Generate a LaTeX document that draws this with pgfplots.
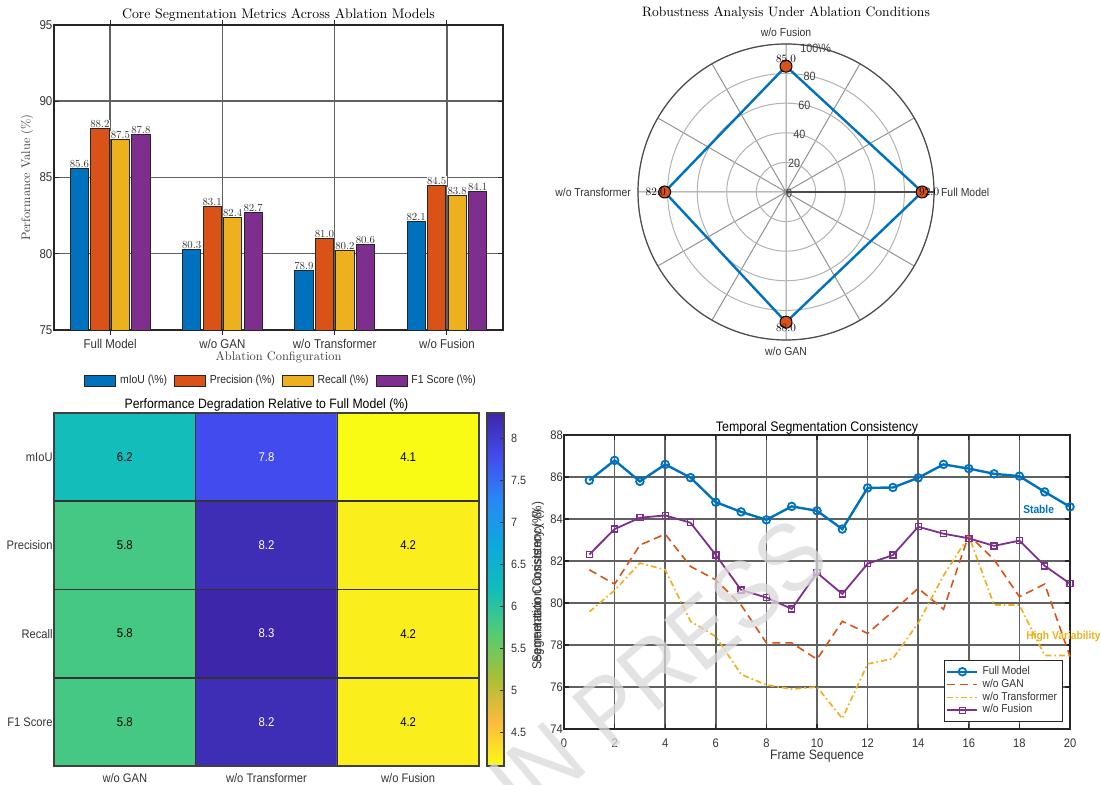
\documentclass[border=0pt]{standalone}
\usepackage{fontspec}
\setmainfont{lmroman10-regular.otf}
\setsansfont{Liberation Sans}[FakeStretch=0.9]
\usepackage{pgfplots}
\usepackage{pgfplotstable}
\pgfplotsset{compat=1.18}
\usepgfplotslibrary{polar}
\definecolor{mblue}{rgb}{0,0.447,0.741}
\definecolor{morange}{rgb}{0.85,0.325,0.098}
\definecolor{myellow}{rgb}{0.929,0.694,0.125}
\definecolor{mpurple}{rgb}{0.494,0.184,0.556}
\definecolor{gridc}{gray}{0.38}
\definecolor{tickc}{gray}{0.2}
\definecolor{boxc}{gray}{0.15}
\newcommand{\sfs}[1]{\sffamily\fontsize{#1}{#1}\selectfont}
\newcommand{\rms}[1]{\rmfamily\fontsize{#1}{#1}\selectfont}

\pgfplotstableread{
x miou prec rec f1
0 85.6 88.2 87.5 87.8
1 80.3 83.1 82.4 82.7
2 78.9 81.0 80.2 80.6
3 82.1 84.5 83.8 84.1
}\bardata

\pgfplotstableread{
x y c
0 0 5.8
1 0 8.2
2 0 4.2
0 1 5.8
1 1 8.3
2 1 4.2
0 2 5.8
1 2 8.2
2 2 4.2
0 3 6.2
1 3 7.8
2 3 4.1
}\heatdata

\pgfplotstableread{
f full gan trans fus
1 85.84 81.58 79.58 82.31
2 86.79 80.90 80.60 83.52
3 85.79 82.76 81.90 84.06
4 86.60 83.28 81.58 84.17
5 85.97 81.74 79.13 83.82
6 84.80 81.10 78.40 82.29
7 84.34 79.90 76.60 80.62
8 83.96 78.10 76.10 80.26
9 84.60 78.10 75.90 79.72
10 84.39 77.32 76.00 81.44
11 83.52 79.13 74.50 80.43
12 85.48 78.55 77.10 81.87
13 85.50 79.60 77.35 82.28
14 85.96 80.70 79.05 83.63
15 86.60 79.70 81.30 83.30
16 86.40 83.24 83.20 83.08
17 86.15 82.06 79.90 82.72
18 86.04 80.30 79.90 82.97
19 85.29 80.90 77.50 81.77
20 84.58 77.45 77.50 80.92
}\linedata

\begin{document}
\begin{tikzpicture}
\useasboundingbox (0,0) rectangle (550.5pt,392.5pt);

% ---------------- Bar chart ----------------
\begin{axis}[
  at={(27pt,227.5pt)}, anchor=south west,
  scale only axis, width=224.5pt, height=152.5pt,
  xmin=-0.5, xmax=3.5, ymin=75, ymax=95,
  xtick={0,1,2,3},
  xticklabels={Full Model,w/o GAN,w/o Transformer,w/o Fusion},
  ytick={75,80,...,95},
  grid=major, major grid style={gridc, line width=0.75pt},
  axis line style={boxc, line width=0.8pt},
  tick align=inside, major tick length=2.5pt, tick style={boxc, line width=0.6pt},
  /pgf/number format/assume math mode=true,
  tick label style={font=\sfs{6.4}, text=tickc},
  yticklabel style={inner sep=0.6pt},
  xticklabel style={yshift=1.5pt},
  title={Core Segmentation Metrics Across Ablation Models},
  title style={font=\rms{6.9}, at={(axis description cs:0.5,1)}, anchor=center, yshift=-1pt},
  ylabel={Performance Value (\%)},
  ylabel style={font=\rms{6.2}, text=black!75, at={(axis description cs:0,0.5)}, anchor=center, yshift=13.5pt},
  xlabel={Ablation Configuration},
  xlabel style={font=\rms{6.2}, text=black!75, at={(axis description cs:0.5,0)}, anchor=center, yshift=-13.5pt},
  ybar, bar width=0.162,
  legend image code/.code={\draw[#1, draw=black!85, line width=0.4pt] (0pt,-2.6pt) rectangle (15.5pt,2.6pt);},
  legend columns=4,
  legend style={draw=none, fill=none, font=\sfs{5.8}, text=black!85,
    at={(axis description cs:0.508,-0.167)}, anchor=center,
    /tikz/every even column/.append style={column sep=1.5pt}},
  nodes near coords={\pgfmathprintnumber[fixed,fixed zerofill,precision=1]{\pgfplotspointmeta}},
  nodes near coords style={font=\rms{5.4}, fill=white, inner sep=0.2pt, text=black!80},
]
\addplot[bar shift=-0.274, fill=mblue, draw=black!85, line width=0.4pt] table[x=x,y=miou]{\bardata};
\addplot[bar shift=-0.0915, fill=morange, draw=black!85, line width=0.4pt] table[x=x,y=prec]{\bardata};
\addplot[bar shift=0.0915, fill=myellow, draw=black!85, line width=0.4pt] table[x=x,y=rec]{\bardata};
\addplot[bar shift=0.274, fill=mpurple, draw=black!85, line width=0.4pt] table[x=x,y=f1]{\bardata};
\legend{mIoU (\textbackslash\%),Precision (\textbackslash\%),Recall (\textbackslash\%),F1 Score (\textbackslash\%)}
\end{axis}

% ---------------- Polar chart ----------------
\begin{polaraxis}[
  at={(393pt,296.5pt)}, anchor=center,
  scale only axis, width=148pt, height=148pt,
  ymin=0, ymax=100,
  xtick={0,30,...,330},
  xticklabels={Full Model,,,w/o Fusion,,,w/o Transformer,,,w/o GAN,,},
  xticklabel style={font=\sfs{5.8}, text=black!80},
  ytick={0,20,...,100}, yticklabels={},
  major tick length=0pt,
  xmajorgrids, ymajorgrids,
  x grid style={gray!85, line width=0.5pt},
  y grid style={gray!60, line width=0.5pt},
  axis line style={black!70, line width=0.6pt},
  title={Robustness Analysis Under Ablation Conditions},
  title style={font=\rms{6.8}, at={(axis description cs:0.5,1)}, anchor=center, yshift=1pt},
  clip=false,
]
\addplot[mblue, line width=1.2pt, mark=none] coordinates {(0,92) (90,85) (180,82) (270,88) (360,92)};
\addplot[only marks, mark=*, mark size=3pt, mark options={fill=morange, draw=black, line width=0.5pt},
  point meta=explicit symbolic, nodes near coords,
  every node near coord/.append style={font=\rms{5.6}, anchor=center, xshift=3.5pt}] coordinates {(0,92)[92.0]};
\addplot[only marks, mark=*, mark size=3pt, mark options={fill=morange, draw=black, line width=0.5pt},
  point meta=explicit symbolic, nodes near coords,
  every node near coord/.append style={font=\rms{5.6}, anchor=center, yshift=3.5pt}] coordinates {(90,85)[85.0]};
\addplot[only marks, mark=*, mark size=3pt, mark options={fill=morange, draw=black, line width=0.5pt},
  point meta=explicit symbolic, nodes near coords,
  every node near coord/.append style={font=\rms{5.6}, anchor=center, xshift=-4.5pt}] coordinates {(180,82)[82.0]};
\addplot[only marks, mark=*, mark size=3pt, mark options={fill=morange, draw=black, line width=0.5pt},
  point meta=explicit symbolic, nodes near coords,
  every node near coord/.append style={font=\rms{5.6}, anchor=center, yshift=-3pt}] coordinates {(270,88)[88.0]};
\node[font=\sfs{6}, text=black!75, anchor=center, xshift=1.5pt, yshift=-0.5pt] at (axis cs:80,0) {0};
\node[font=\sfs{6}, text=black!75, anchor=center, xshift=1.5pt, yshift=-0.5pt] at (axis cs:80,20) {20};
\node[font=\sfs{6}, text=black!75, anchor=center, xshift=1.5pt, yshift=-0.5pt] at (axis cs:80,40) {40};
\node[font=\sfs{6}, text=black!75, anchor=center, xshift=1.5pt, yshift=-0.5pt] at (axis cs:80,60) {60};
\node[font=\sfs{6}, text=black!75, anchor=center, xshift=1.5pt, yshift=-0.5pt] at (axis cs:80,80) {80};
\node[font=\sfs{6}, text=black!75, anchor=center, xshift=2pt, yshift=-1pt] at (axis cs:80,100) {100\textbackslash\%};
\end{polaraxis}

% ---------------- Heatmap ----------------
\begin{axis}[
  at={(27pt,9.5pt)}, anchor=south west,
  scale only axis, width=212.5pt, height=176.5pt,
  xmin=-0.5, xmax=2.5, ymin=-0.5, ymax=3.5,
  xtick={0,1,2}, xticklabels={w/o GAN,w/o Transformer,w/o Fusion},
  ytick={0,1,2,3}, yticklabels={F1 Score,Recall,Precision,mIoU},
  major tick length=0pt,
  /pgf/number format/assume math mode=true,
  tick label style={font=\sfs{6.2}, text=tickc},
  yticklabel style={inner sep=0.5pt},
  minor xtick={0.5,1.5}, minor ytick={0.5,1.5,2.5},
  xminorgrids, yminorgrids,
  minor grid style={black!80, line width=0.8pt},
  minor tick length=0pt,
  axis on top,
  axis line style={black!75, line width=0.8pt},
  title={Performance Degradation Relative to Full Model (\%)},
  title style={font=\sfs{6.8}, at={(axis description cs:0.5,1)}, anchor=center, yshift=-2pt},
  colormap={parularev}{rgb=(0.977,0.984,0.081) rgb=(0.99,0.73,0.24) rgb=(0.66,0.75,0.21) rgb=(0.33,0.80,0.45) rgb=(0.07,0.74,0.73) rgb=(0.05,0.66,0.87) rgb=(0.15,0.54,0.96) rgb=(0.26,0.30,0.94) rgb=(0.24,0.15,0.66)},
  point meta min=4.1, point meta max=8.3,
  colorbar,
  colorbar style={
    at={(parent axis.north east)}, anchor=north west, xshift=-4.5pt,
    width=8.5pt,
    ytick={4.5,5,...,8},
    ytick pos=right,
    tick align=inside, major tick length=2pt, tick style={black!80},
    yticklabel style={font=\sfs{6}, text=tickc, /pgf/number format/assume math mode=true},
    axis line style={black!75, line width=0.6pt},
    ylabel={Segmentation Consistency (\%)},
    ylabel style={font=\sfs{6.5}, text=tickc, at={(axis description cs:1,0.5)}, anchor=center, yshift=-17pt},
  },
]
\addplot[matrix plot*, mesh/cols=3, point meta=explicit] table[x=x,y=y,meta=c]{\heatdata};
\addplot[draw=none, mark=none, point meta=explicit symbolic, nodes near coords,
  every node near coord/.append style={font=\sfs{6.3}, text=black, anchor=center}]
  coordinates {(0,0)[5.8] (2,0)[4.2] (0,1)[5.8] (2,1)[4.2] (0,2)[5.8] (2,2)[4.2] (0,3)[6.2] (2,3)[4.1]};
\addplot[draw=none, mark=none, point meta=explicit symbolic, nodes near coords,
  every node near coord/.append style={font=\sfs{6.3}, text=white, anchor=center}]
  coordinates {(1,0)[8.2] (1,1)[8.3] (1,2)[8.2] (1,3)[7.8]};
\end{axis}

% ---------------- Line chart ----------------
\begin{axis}[
  at={(282pt,28pt)}, anchor=south west,
  scale only axis, width=253pt, height=147pt,
  xmin=0, xmax=20, ymin=74, ymax=88,
  xtick={0,2,...,20}, ytick={74,76,...,88},
  grid=major, major grid style={gridc, line width=0.75pt},
  axis line style={boxc, line width=0.8pt},
  tick align=inside, major tick length=2.5pt, tick style={boxc, line width=0.6pt},
  /pgf/number format/assume math mode=true,
  tick label style={font=\sfs{6.2}, text=tickc},
  yticklabel style={inner sep=0.4pt},
  xticklabel style={yshift=-1.5pt},
  title={Temporal Segmentation Consistency},
  title style={font=\sfs{6.9}, at={(axis description cs:0.5,1)}, anchor=center, yshift=-2.5pt},
  xlabel={Frame Sequence},
  xlabel style={font=\sfs{6.8}, text=tickc, at={(axis description cs:0.5,0)}, anchor=center, yshift=-13.5pt},
  ylabel={Segmentation Consistency (\%)},
  ylabel style={font=\sfs{6.5}, text=tickc, at={(axis description cs:0,0.5)}, anchor=center, yshift=13pt},
  legend image code/.code={\draw[mark repeat=2,mark phase=2,#1] plot coordinates {(0pt,0pt) (7.5pt,0pt) (15pt,0pt)};},
  legend style={at={(axis description cs:0.986,0.024)}, anchor=south east, draw=black!85,
    fill=white, font=\sfs{5.7}, text=tickc, inner sep=0.8pt, row sep=-3.2pt},
  legend cell align=left,
  clip=false,
]
\addplot[mblue, line width=1.2pt, mark=o, mark size=1.9pt, mark options={solid, line width=0.9pt}] table[x=f,y=full]{\linedata};
\addplot[morange, line width=0.8pt, dash pattern=on 4pt off 2.5pt] table[x=f,y=gan]{\linedata};
\addplot[myellow, line width=0.85pt, dash pattern=on 3pt off 1.5pt on 0.8pt off 1.5pt] table[x=f,y=trans]{\linedata};
\addplot[mpurple, line width=0.9pt, mark=square, mark size=1.5pt, mark options={solid, line width=0.7pt}] table[x=f,y=fus]{\linedata};
\legend{Full Model,w/o GAN,w/o Transformer,w/o Fusion}
\node[font=\sfs{5.7}\bfseries, text=mblue] at (axis cs:18.76,84.46) {Stable};
\node[font=\sfs{5.7}\bfseries, text=myellow] at (axis cs:19.74,78.4) {High Variability};
\end{axis}

% watermark
\node[rotate=40, font=\sffamily\fontsize{48}{50}\selectfont, text=black!15, opacity=0.75] at (255pt,-4pt) {ARTICLE IN PRESS};
\end{tikzpicture}
\end{document}
